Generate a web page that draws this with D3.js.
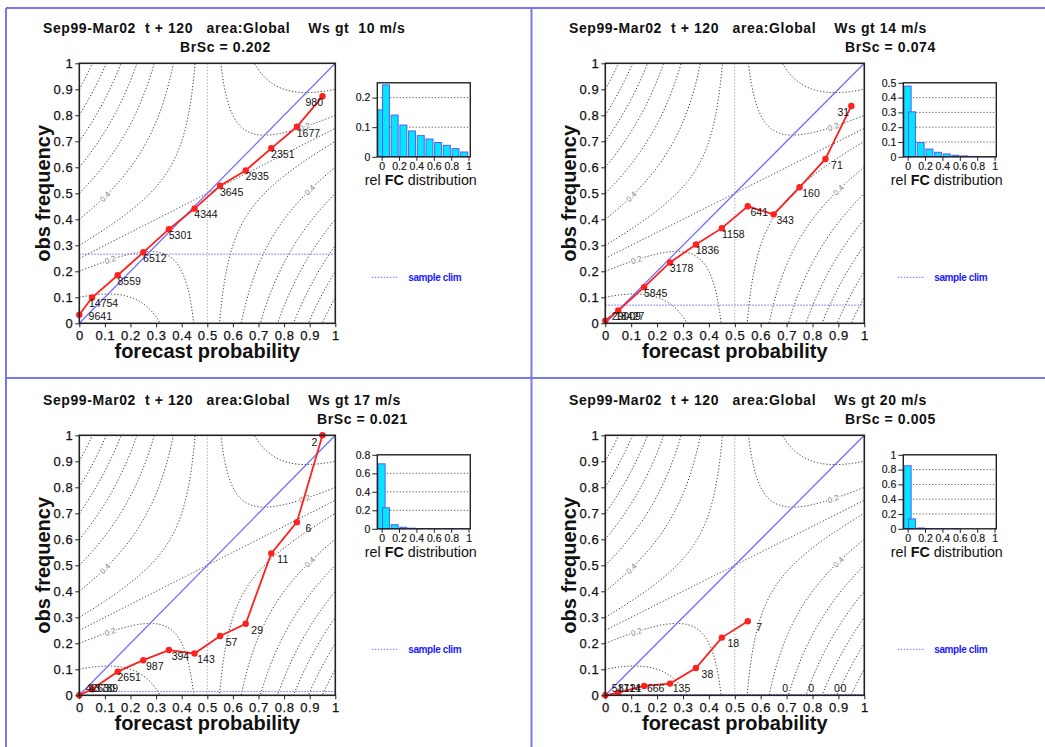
<!DOCTYPE html>
<html>
<head>
<meta charset="utf-8">
<script src="https://cdn.jsdelivr.net/npm/d3@7"></script>
<style>
  body { margin: 0; background: #fff; }
  svg { font-family: "Liberation Sans", Arial, Helvetica, sans-serif; }
  .title { font-weight: bold; font-size: 14px; letter-spacing: 0.6px; white-space: pre; fill: #111; }
  .axis-label { font-weight: bold; font-size: 20px; fill: #111; }
  .tick text { font-size: 13px; letter-spacing: 0.6px; fill: #111; stroke: #111; stroke-width: 0.25px; }
  .tick line { stroke: #222; }
  .htick .tick text { font-size: 10.5px; letter-spacing: 0; stroke-width: 0.15px; }
  .count { font-size: 10.5px; fill: #111; }
  .clabel { font-size: 8px; fill: #808080; }
</style>
</head>
<body>
<div id="chart"></div>
<script>
// Reliability diagrams, ECMWF-style, four wind-speed thresholds

const WIDTH = 1045;
const HEIGHT = 747;

// ---- data ----
const binCentres = [0, 0.05, 0.15, 0.25, 0.35, 0.45, 0.55, 0.65, 0.75, 0.85, 0.95];
const thresholds = ["10", "14", "17", "20"];
const gtSpacing = ["  ", " ", " ", " "];
const brierSkill = ["0.202", "0.074", "0.021", "0.005"];

const obs10 = [0.033, 0.099, 0.185, 0.273, 0.362, 0.441, 0.529, 0.588, 0.673, 0.756, 0.873];
const count10 = [9641, 14754, 8559, 6512, 5301, 4344, 3645, 2935, 2351, 1677, 980];

const obs14 = [0.01, 0.049, 0.139, 0.234, 0.303, 0.366, 0.45, 0.419, 0.523, 0.632, 0.836];
const count14 = [29009, 18427, 5845, 3178, 1836, 1158, 641, 343, 160, 71, 31];

const obs17 = [0, 0.023, 0.091, 0.135, 0.174, 0.161, 0.228, 0.275, 0.546, 0.666, 1.0];
const count17 = [42630, 13789, 2651, 987, 394, 143, 57, 29, 11, 6, 2];

const obs20 = [0, 0.01, 0.036, 0.045, 0.105, 0.222, 0.285, null, null, null, null];
const count20 = [51714, 8121, 666, 135, 38, 18, 7, 0, 0, 0, 0];

const sampleClim = [0.266, 0.07, 0.015, 0.003];

const probTicks = [0, 0.1, 0.2, 0.3, 0.4, 0.5, 0.6, 0.7, 0.8, 0.9, 1];
const histXTicks = [0, 0.2, 0.4, 0.6, 0.8, 1];
const histYMax = [0.25, 0.5, 0.8, 1];
const histYTicks = [
  [0, 0.1, 0.2],
  [0, 0.1, 0.2, 0.3, 0.4, 0.5],
  [0, 0.2, 0.4, 0.6, 0.8],
  [0, 0.2, 0.4, 0.6, 0.8, 1]
];

// Brier score isolines (x^2 - 2xy + y = level)
const contourLevels = [0.1, 0.2, 0.3, 0.4, 0.5, 0.6, 0.7, 0.8, 0.9];
const contourLabelLevels = [0.4, 0.2, 0.4, 0.2];

const obsSeries = [obs10, obs14, obs17, obs20];
const countSeries = [count10, count14, count17, count20];

// ---- layout ----
const quads = [
  { ox: 0, oy: 0, w: 256 },
  { ox: 526, oy: 0, w: 259 },
  { ox: 0, oy: 372, w: 256 },
  { ox: 526, oy: 372, w: 259 }
];
const brscX = [180, 319, 317, 319];
const contourLabelX = [0.1, 0.12, 0.9, 0.88];
const PLOT_H = 260;

const svg = d3.select("#chart").append("svg")
  .attr("width", WIDTH)
  .attr("height", HEIGHT);

// blue frame lines
const frameColor = "#7777ee";
[[6, 8, 1045, 8], [6, 8, 6, 747], [531.5, 8, 531.5, 747], [6, 378, 1045, 378]].forEach(([x1, y1, x2, y2]) => {
  svg.append("line")
    .attr("x1", x1).attr("y1", y1).attr("x2", x2).attr("y2", y2)
    .attr("stroke", frameColor).attr("stroke-width", 2);
});

function hyperbolaBranch(level, side) {
  // with u = x-0.5, v = y-0.5 the isoline is u(u-2v) = level-0.25
  const k = level - 0.25;
  const pts = [];
  const tMax = Math.log10(0.5);
  for (let i = 0; i <= 700; i++) {
    const t = -4 + (i * (tMax + 4)) / 700;
    const u = side * Math.pow(10, t);
    const v = (u - k / u) / 2;
    if (Math.abs(v) < 3) pts.push([0.5 + u, 0.5 + v]);
  }
  return side < 0 ? pts.reverse() : pts;
}

quads.forEach((q, i) => {
  const left = q.ox + 79.3;
  const top = q.oy + 63.3;
  const w = q.w;
  const h = PLOT_H;

  const g = svg.append("g").attr("transform", `translate(${left},${top})`);

  const x = d3.scaleLinear().domain([0, 1]).range([0, w]);
  const y = d3.scaleLinear().domain([0, 1]).range([h, 0]);

  const clipId = `clip${i}`;
  svg.append("clipPath").attr("id", clipId)
    .append("rect").attr("x", 0).attr("y", 0).attr("width", w).attr("height", h);

  const cg = g.append("g").attr("clip-path", `url(#${clipId})`);
  const line = d3.line().x(d => x(d[0])).y(d => y(d[1]));

  // isolines
  contourLevels.forEach(level => {
    [-1, 1].forEach(side => {
      cg.append("path")
        .attr("d", line(hyperbolaBranch(level, side)))
        .attr("fill", "none")
        .attr("stroke", "#333")
        .attr("stroke-width", 1)
        .attr("stroke-dasharray", "1.2,2");
    });
  });
  // degenerate level 0.25: sloped asymptote and x = 0.5
  cg.append("path")
    .attr("d", line(hyperbolaBranch(0.25, -1).concat(hyperbolaBranch(0.25, 1))))
    .attr("fill", "none").attr("stroke", "#333")
    .attr("stroke-width", 1).attr("stroke-dasharray", "1.2,2");
  cg.append("line")
    .attr("x1", x(0.5)).attr("x2", x(0.5)).attr("y1", 0).attr("y2", h)
    .attr("stroke", "#999").attr("stroke-width", 1).attr("stroke-dasharray", "1.2,2");

  // isoline labels
  contourLabelLevels.forEach((level, j) => {
    const lx = contourLabelX[j];
    const ly = (level - lx * lx) / (1 - 2 * lx);
    const slope = (2 * ly - 2 * lx) / (1 - 2 * lx);
    const ang = -Math.atan(slope * h / w) * 180 / Math.PI;
    g.append("text")
      .attr("class", "clabel")
      .attr("transform", `translate(${x(lx)},${y(ly)}) rotate(${ang})`)
      .attr("text-anchor", "middle")
      .attr("dy", "0.35em")
      .attr("stroke", "#fff").attr("stroke-width", 2.5)
      .attr("paint-order", "stroke")
      .text(level.toFixed(1));
  });

  // sample climate
  cg.append("line")
    .attr("x1", 0).attr("x2", w)
    .attr("y1", y(sampleClim[i])).attr("y2", y(sampleClim[i]))
    .attr("stroke", "#6a6aff").attr("stroke-width", 1)
    .attr("stroke-dasharray", "1.5,1.5");

  // diagonal
  g.append("line")
    .attr("x1", x(0)).attr("y1", y(0)).attr("x2", x(1)).attr("y2", y(1))
    .attr("stroke", "#7070ff").attr("stroke-width", 1.3);

  // reliability curve
  const pts = binCentres.map((b, k) => ({ p: b, o: obsSeries[i][k], n: countSeries[i][k] }));
  g.append("path")
    .datum(pts)
    .attr("d", d3.line().defined(d => d.o != null).x(d => x(d.p)).y(d => y(d.o)))
    .attr("fill", "none")
    .attr("stroke", "#ff2020")
    .attr("stroke-width", 1.8);

  g.selectAll("circle.pt")
    .data(pts.filter(d => d.o != null))
    .join("circle")
    .attr("class", "pt")
    .attr("cx", d => x(d.p))
    .attr("cy", d => y(d.o))
    .attr("r", 3.2)
    .attr("fill", "#ff2020");

  g.selectAll("text.count")
    .data(pts)
    .join("text")
    .attr("class", "count")
    .attr("text-anchor", "middle")
    .attr("x", d => Math.max(21, Math.min(w - 21, x(d.p) + 11.5)))
    .attr("y", d => Math.max(7, Math.min(h - 7, y(d.o == null ? 0 : d.o) + 6)))
    .attr("dy", "0.36em")
    .text(d => d.n);

  // frame
  g.append("rect")
    .attr("width", w).attr("height", h)
    .attr("fill", "none").attr("stroke", "#222").attr("stroke-width", 1.6);

  // axes
  const xa = g.append("g").attr("transform", `translate(0,${h})`)
    .call(d3.axisBottom(x).tickValues(probTicks).tickSize(4).tickPadding(3).tickFormat(d => String(d)));
  const ya = g.append("g")
    .call(d3.axisLeft(y).tickValues(probTicks).tickSize(4).tickPadding(2).tickFormat(d => String(d)));
  [xa, ya].forEach(a => { a.select(".domain").remove(); a.attr("font-size", null).attr("font-family", null); });

  g.append("text").attr("class", "axis-label")
    .attr("x", w / 2).attr("y", 358 + q.oy - top)
    .attr("text-anchor", "middle")
    .text("forecast probability");

  g.append("text").attr("class", "axis-label")
    .attr("transform", `translate(${q.ox + 49.5 - left},${h / 2}) rotate(-90)`)
    .attr("text-anchor", "middle")
    .text("obs frequency");

  // titles
  svg.append("text").attr("class", "title")
    .attr("x", q.ox + 43).attr("y", q.oy + 33)
    .text(`Sep99-Mar02  t + 120   area:Global    Ws gt${gtSpacing[i]}${thresholds[i]} m/s`);
  svg.append("text").attr("class", "title")
    .attr("x", q.ox + brscX[i]).attr("y", q.oy + 52)
    .text(`BrSc = ${brierSkill[i]}`);

  // ---- relative forecast distribution ----
  const hl = left + 298;
  const ht = top + 19.5;
  const hw = 93;
  const hh = 74;
  const hg = svg.append("g").attr("transform", `translate(${hl},${ht})`);
  const hx = d3.scaleLinear().domain([-0.05, 1.02]).range([0, hw]);
  const hy = d3.scaleLinear().domain([0, histYMax[i]]).range([hh, 0]);
  const total = d3.sum(countSeries[i]);
  const rel = countSeries[i].map(n => n / total);

  hg.selectAll("line.grid")
    .data(histYTicks[i].filter(t => t > 0 && t < histYMax[i]))
    .join("line")
    .attr("class", "grid")
    .attr("x1", 0).attr("x2", hw)
    .attr("y1", d => hy(d)).attr("y2", d => hy(d))
    .attr("stroke", "#555").attr("stroke-width", 1)
    .attr("stroke-dasharray", "1.2,2");

  hg.selectAll("rect.bar")
    .data(binCentres.map((b, k) => ({ b, r: rel[k] })))
    .join("rect")
    .attr("class", "bar")
    .attr("x", d => hx(d.b - 0.04))
    .attr("width", hx(0.08) - hx(0))
    .attr("y", d => hy(d.r))
    .attr("height", d => hh - hy(d.r))
    .attr("fill", "#00e8ff")
    .attr("stroke", "#5a5aff")
    .attr("stroke-width", 1);

  hg.append("rect")
    .attr("width", hw).attr("height", hh)
    .attr("fill", "none").attr("stroke", "#222").attr("stroke-width", 1.4);

  const hxa = hg.append("g").attr("class", "htick").attr("transform", `translate(0,${hh})`)
    .call(d3.axisBottom(hx).tickValues(histXTicks).tickSize(4).tickPadding(2).tickFormat(d => String(d)));
  const hya = hg.append("g").attr("class", "htick")
    .call(d3.axisLeft(hy).tickValues(histYTicks[i]).tickSize(5).tickPadding(2).tickFormat(d => String(d)));
  [hxa, hya].forEach(a => { a.select(".domain").remove(); a.attr("font-size", null).attr("font-family", null); });

  const rt = hg.append("text")
    .attr("x", hw / 2 - 3).attr("y", hh + 28.5)
    .attr("text-anchor", "middle")
    .attr("font-size", 14.3)
    .attr("fill", "#111")
    .style("white-space", "pre");
  rt.append("tspan").text("rel ");
  rt.append("tspan").attr("font-weight", "bold").text("FC");
  rt.append("tspan").text(" distribution");

  // legend
  const ly = top + 214;
  svg.append("line")
    .attr("x1", left + 292.5).attr("x2", left + 319)
    .attr("y1", ly).attr("y2", ly)
    .attr("stroke", "#6a6aff").attr("stroke-width", 1)
    .attr("stroke-dasharray", "1.5,1.5");
  svg.append("text")
    .attr("x", left + 329).attr("y", ly + 3.5)
    .attr("font-size", 10)
    .attr("letter-spacing", -0.4)
    .attr("font-weight", 600)
    .attr("fill", "#1a1aff")
    .text("sample clim");
});
</script>
</body>
</html>
